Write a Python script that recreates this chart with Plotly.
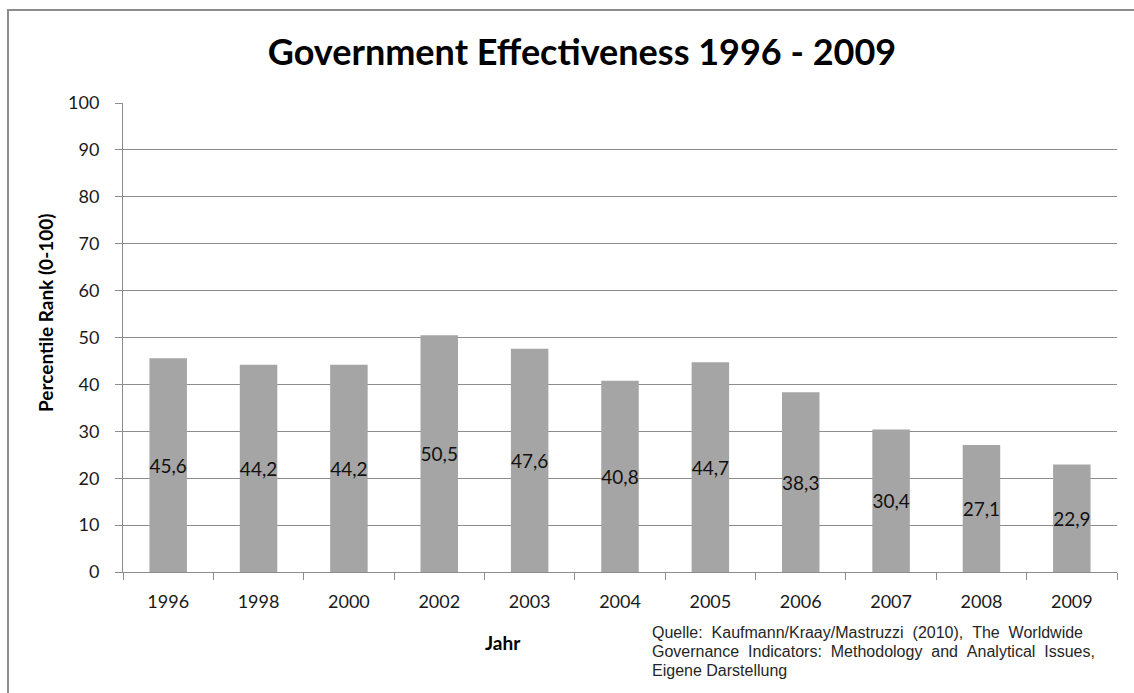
import plotly.graph_objects as go

# Government Effectiveness percentile ranks by year
years = ["1996", "1998", "2000", "2002", "2003", "2004", "2005", "2006", "2007", "2008", "2009"]
percentile_rank = [45.6, 44.2, 44.2, 50.5, 47.6, 40.8, 44.7, 38.3, 30.4, 27.1, 22.9]
y_ticks = [0, 10, 20, 30, 40, 50, 60, 70, 80, 90, 100]

title_text = "Government Effectiveness 1996 - 2009"
y_title = "Percentile Rank (0-100)"
x_title = "Jahr"
source_lines = [
    "Quelle:  Kaufmann/Kraay/Mastruzzi  (2010),  The  Worldwide",
    "Governance  Indicators:  Methodology  and  Analytical  Issues,",
    "Eigene Darstellung",
]

W, H = 1134, 693
L, R, T, B = 123, 17, 103, 121
GRID = "#8c8c8c"

fig = go.Figure(
    go.Bar(
        x=years,
        y=percentile_rank,
        marker=dict(color="#a5a5a5", line=dict(width=0)),
        texttemplate="%{y:.1f}",
        textposition="inside",
        insidetextanchor="middle",
        constraintext="none",
        textangle=0,
        textfont=dict(family="Lato", size=19, color="#111111"),
        cliponaxis=False,
    )
)

pw = W - L - R
ph = H - T - B


def px_x(x):
    return (x - L) / pw


def px_y(y):
    return (H - B - y) / ph


annotations = [
    dict(
        text="<b>" + y_title + "</b>",
        xref="paper",
        yref="paper",
        x=px_x(45),
        y=px_y(313),
        textangle=-90,
        showarrow=False,
        xanchor="center",
        yanchor="middle",
        font=dict(family="Lato", size=19, color="#000000"),
    ),
    dict(
        text="<b>" + x_title + "</b>",
        xref="paper",
        yref="paper",
        x=px_x(503),
        y=px_y(642),
        showarrow=False,
        xanchor="center",
        yanchor="middle",
        font=dict(family="Lato", size=19, color="#000000"),
    ),
]

# source note, one annotation per line
for i, line in enumerate(source_lines):
    annotations.append(
        dict(
            text=line.replace("  ", " &nbsp;"),
            xref="paper",
            yref="paper",
            x=px_x(650),
            y=px_y(632 + 19 * i),
            showarrow=False,
            xanchor="left",
            yanchor="middle",
            align="left",
            font=dict(family="Liberation Sans", size=16, color="#262626"),
        )
    )

fig.update_layout(
    width=W,
    height=H,
    margin=dict(l=L, r=R, t=T, b=B),
    paper_bgcolor="white",
    plot_bgcolor="white",
    separators=",.",
    showlegend=False,
    bargap=0.585,
    font=dict(family="Lato", color="#1a1a1a"),
    title=dict(
        text="<b>" + title_text + "</b>",
        font=dict(family="Lato", size=36, color="#000000"),
        x=582 / W,
        xanchor="center",
        y=1 - 52 / H,
        yanchor="middle",
    ),
    xaxis=dict(
        type="category",
        showgrid=False,
        showline=True,
        linecolor=GRID,
        linewidth=1,
        ticks="outside",
        tickson="boundaries",
        ticklen=7,
        tickcolor=GRID,
        tickfont=dict(family="Lato", size=18, color="#1a1a1a"),
        ticklabelstandoff=13,
        zeroline=False,
    ),
    yaxis=dict(
        range=[0, 100],
        tickvals=y_ticks,
        showgrid=True,
        gridcolor=GRID,
        gridwidth=1,
        showline=True,
        linecolor=GRID,
        linewidth=1,
        ticks="outside",
        ticklen=7,
        tickcolor=GRID,
        tickfont=dict(family="Lato", size=18, color="#1a1a1a"),
        ticklabelstandoff=12,
        zeroline=False,
    ),
    shapes=[
        dict(
            type="rect",
            xref="paper",
            yref="paper",
            x0=px_x(8),
            x1=px_x(1160),
            y0=px_y(720),
            y1=px_y(10),
            line=dict(color="#8c8c8c", width=2),
            fillcolor="rgba(0,0,0,0)",
            layer="below",
        )
    ],
    annotations=annotations,
)

fig.write_html("out.html")
